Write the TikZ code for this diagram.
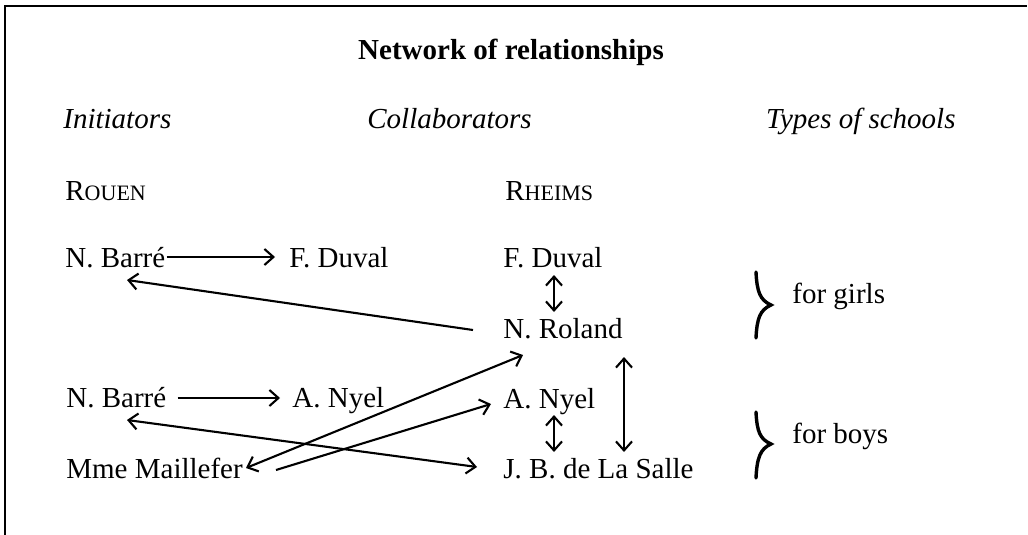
\documentclass[tikz,border=0pt]{standalone}
\usepackage{fontspec}
\setmainfont{Liberation Serif}
\usetikzlibrary{arrows.meta,calc}
\newcommand{\mainsz}{\fontsize{14.5pt}{17pt}\selectfont}
\newcommand{\scsz}{\fontsize{11pt}{13pt}\selectfont}
\begin{document}
\begin{tikzpicture}[x=0.5pt,y=-0.5pt,
  every node/.style={inner sep=0pt, font=\mainsz},
  lbl/.style={anchor=base west},
  arr/.style={-{Straight Barb[length=4.5pt,width=8pt]}, line width=1.05pt},
  darr/.style={{Straight Barb[length=4.5pt,width=8pt]}-{Straight Barb[length=4.5pt,width=8pt]}, line width=1.05pt},
  bracestyle/.style={line width=1.7pt, line cap=round},
  frame/.style={line width=1pt}]
\useasboundingbox (0,0) rectangle (1028,535);
\draw[frame] (5,535) -- (5,6) -- (1027,6);

% headers
\node[anchor=base, font=\mainsz\bfseries] (title) at (511,60) {Network of relationships};
\node[lbl, font=\mainsz\itshape] (init) at (63,128) {Initiators};
\node[lbl, font=\mainsz\itshape] (collab) at (367,128) {Collaborators};
\node[anchor=base east, font=\mainsz\itshape] (types) at (956,128) {Types of schools};
\node[lbl] (rouen) at (65,200) {R{\scsz OUEN}};
\node[lbl] (rheims) at (505,200) {R{\scsz HEIMS}};

% Rouen column
\node[lbl] (nb1) at (65,267) {N. Barré};
\node[lbl] (fd1) at (289,267) {F. Duval};
\node[lbl] (nb2) at (66,407) {N. Barré};
\node[lbl] (an1) at (292,407) {A. Nyel};
\node[lbl] (mm) at (66,478) {Mme Maillefer};

% Rheims column
\node[lbl] (fd2) at (503,267) {F. Duval};
\node[lbl] (nr) at (503,338) {N. Roland};
\node[lbl] (an2) at (503,408) {A. Nyel};
\node[lbl] (jb) at (503,478) {J. B. de La Salle};

% school types
\node[lbl] (girls) at (792,303) {for girls};
\node[lbl] (boys) at (792,443) {for boys};

% connectors
\draw[arr] ($(nb1.base east)+(1,-10)$) -- ($(fd1.base west)+(-14,-10)$);
\draw[arr] ($(nb2.base east)+(11,-9)$) -- ($(an1.base west)+(-12,-9)$);
\draw[arr] ($(nr.base west)+(-30,-8)$) -- ($(nb1.base west)+(62,13)$);
\draw[darr] ($(fd2.base west)+(51,8)$) -- ($(nr.base west)+(51,-26)$);
\draw[darr] ($(nr.base west)+(121,19)$) -- ($(jb.base west)+(121,-26)$);
\draw[darr] ($(an2.base west)+(51,7)$) -- ($(jb.base west)+(51,-26)$);
\draw[darr] ($(mm.base west)+(180,-10)$) -- ($(nr.base west)+(20,17)$);
\draw[arr] ($(mm.base west)+(210,-8)$) -- ($(an2.base west)+(-12,-4)$);
\draw[darr] ($(nb2.base west)+(61,13)$) -- ($(jb.base west)+(-26,-11)$);

% braces
\draw[bracestyle] (756,272) .. controls (757,292) and (760,300) .. (771,305) .. controls (760,310) and (757,318) .. (756,338);
\draw[bracestyle] (756,412) .. controls (757,432) and (760,439) .. (771,444) .. controls (760,449) and (757,458) .. (756,478);
\end{tikzpicture}
\end{document}
